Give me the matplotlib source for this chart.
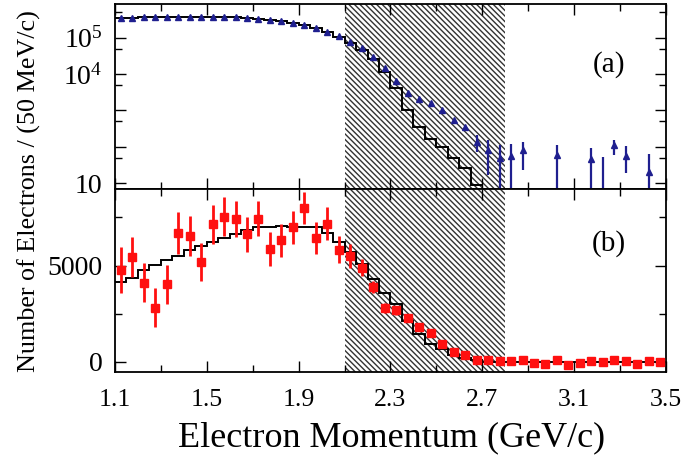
import numpy as np
import matplotlib
matplotlib.use("Agg")
import matplotlib.pyplot as plt
from matplotlib.ticker import FixedLocator, NullFormatter

plt.rcParams['font.family'] = ['Liberation Serif', 'DejaVu Serif']
plt.rcParams['mathtext.fontset'] = 'stix'
plt.rcParams['hatch.linewidth'] = 1.0

# --- data: 50 MeV/c bins from 1.1 to 3.5 GeV/c ---
bin_edges = np.round(np.arange(1.1, 3.5001, 0.05), 3)
bin_centers = bin_edges[:-1] + 0.025

# (a) data points (log scale), NaN = no point drawn
top_data = [3.4e5, 3.5e5, 3.6e5, 3.6e5, 3.65e5, 3.7e5, 3.7e5, 3.7e5, 3.7e5, 3.7e5,
            3.6e5, 3.45e5, 3.25e5, 3.05e5, 2.8e5, 2.5e5, 2.2e5, 1.8e5, 1.45e5, 1.12e5,
            7.8e4, 5.1e4, 2.9e4, 1.44e4, 6300, 3100, 2100, 1600, 1000, 560,
            360, 139, 82, 49, 56, 82, np.nan, np.nan, 60, np.nan,
            np.nan, 46, 4, 110, 57, np.nan, 21, np.nan]
# error bar ends (low, high) for the tail points
top_err_lo = [np.nan] * 31 + [74, 17, 1, 1, 23, np.nan, np.nan, 1, np.nan,
                              np.nan, 1, 1, 60, 19, np.nan, 1, np.nan]
top_err_hi = [np.nan] * 31 + [212, 155, 112, 118, 139, np.nan, np.nan, 112, np.nan,
                              np.nan, 92, 54, 155, 108, np.nan, 63, np.nan]
# (a) histogram, only bins up to 2.7 GeV/c are above the axis floor
top_hist = [3.4e5, 3.5e5, 3.6e5, 3.6e5, 3.65e5, 3.7e5, 3.7e5, 3.7e5, 3.7e5, 3.7e5,
            3.6e5, 3.45e5, 3.25e5, 3.05e5, 2.8e5, 2.5e5, 2.2e5, 1.8e5, 1.46e5, 1.06e5,
            7.3e4, 4.6e4, 2.55e4, 1.16e4, 4070, 1030, 359, 162, 101, 49,
            26, 9]

# (b) data points (linear scale)
bot_data = [4786, 5440, 4112, 2817, 4025, 6683, 6527, 5180, 7133, 7547,
            7427, 6615, 7427, 5873, 6304, 6993, 7977, 6444, 7169, 5822,
            5500, 4890, 3885, 2800, 2690, 2300, 1790, 1490, 953, 518,
            347, 110, 110, 70, 52, 88, -31, -83, 88, -135,
            -31, 35, 0, 120, 52, -83, 35, 0]
bot_err = [1190, 1036, 1010, 1020, 1010, 1080, 1036, 984, 993, 993,
           950, 906, 915, 890, 880, 863, 820, 820, 846, 690,
           604, 450, 330, 250, 230, 200, 180, 160, 140, 120,
           100, 80, 80, 80, 80, 80, 80, 80, 80, 80,
           80, 80, 80, 80, 80, 80, 80, 80]
bot_hist = [4144, 4351, 4750, 5045, 5268, 5475, 5786, 5993, 6216, 6444,
            6651, 6822, 6993, 6993, 7045, 6993, 6993, 6993, 6684, 6216,
            5698, 5097, 4320, 3575, 3025, 2124, 1435, 953, 694, 347,
            228, 88, 0, 0, 0, 0, 0, 0, 0, 0,
            0, 0, 0, 0, 0, 0, 0, 0]

cut_lo, cut_hi = 2.1, 2.8
x_major = [1.1, 1.5, 1.9, 2.3, 2.7, 3.1, 3.5]
x_minor = [1.3, 1.7, 2.1, 2.5, 2.9, 3.3]

navy = '#1f1f8f'
red = '#ff1010'

fig = plt.figure(figsize=(6.84, 4.61), dpi=100)
ax1 = fig.add_axes([0.1681, 0.5911, 0.8056, 0.4002])
ax2 = fig.add_axes([0.1681, 0.1931, 0.8056, 0.3980])

for ax in (ax1, ax2):
    ax.axvspan(cut_lo, cut_hi, facecolor='none', edgecolor='#333333',
               hatch='\\' * 6, linewidth=0, zorder=0)
    ax.set_xlim(1.1, 3.5)
    ax.xaxis.set_major_locator(FixedLocator(x_major))
    ax.xaxis.set_minor_locator(FixedLocator(x_minor))
    ax.tick_params(which='both', direction='in', top=True, right=True, width=1.0)
    ax.tick_params(which='major', length=8)
    ax.tick_params(which='minor', length=5)
    for sp in ax.spines.values():
        sp.set_linewidth(1.3)

# --- panel (a) ---
top_data = np.array(top_data)
lo = np.array(top_err_lo)
hi = np.array(top_err_hi)
yerr = np.vstack([np.nan_to_num(top_data - lo), np.nan_to_num(hi - top_data)])
ax1.stairs(top_hist, bin_edges[:len(top_hist) + 1], baseline=None,
           color='black', linewidth=1.4, zorder=2)
ax1.errorbar(bin_centers, top_data, yerr=yerr, fmt='^', color=navy, ms=4.8,
             elinewidth=1.6, capsize=0, zorder=3)
ax1.set_yscale('log')
ax1.set_ylim(7.2, 8.4e5)
ax1.yaxis.set_major_locator(FixedLocator([10, 1e2, 1e3, 1e4, 1e5]))
ax1.yaxis.set_minor_locator(FixedLocator([50, 5e2, 5e3, 5e4, 5e5]))
ax1.set_yticklabels(['10', '', '', r'$\mathregular{10^{4}}$', r'$\mathregular{10^{5}}$'])
ax1.yaxis.set_minor_formatter(NullFormatter())
ax1.tick_params(axis='y', labelsize=20, pad=9)
ax1.tick_params(axis='x', labelbottom=False)
ax1.text(0.897, 0.67, '(a)', transform=ax1.transAxes, fontsize=21,
         ha='center', va='center')

# --- panel (b) ---
ax2.stairs(bot_hist, bin_edges, baseline=None, color='black',
           linewidth=1.4, zorder=2)
ax2.errorbar(bin_centers, bot_data, yerr=bot_err, fmt='s', color=red, ms=5.5,
             elinewidth=2.0, capsize=0, zorder=3)
ax2.set_ylim(-520, 9000)
ax2.yaxis.set_major_locator(FixedLocator([0, 5000]))
ax2.yaxis.set_minor_locator(FixedLocator([2500, 7500]))
ax2.tick_params(axis='y', labelsize=20, pad=9)
ax2.tick_params(axis='x', labelsize=18.5, pad=12)
ax2.set_xticklabels(['1.1', '1.5', '1.9', '2.3', '2.7', '3.1', '3.5'])
ax2.text(0.897, 0.70, '(b)', transform=ax2.transAxes, fontsize=21,
         ha='center', va='center')

fig.text(0.572, 1 - 438 / 461, 'Electron Momentum (GeV/c)', fontsize=26,
         ha='center', va='center')
fig.text(0.043, 1 - 191 / 461, 'Number of Electrons / (50 MeV/c)', fontsize=18.8,
         rotation=90, ha='center', va='center')

fig.savefig('out.png', dpi=100)
